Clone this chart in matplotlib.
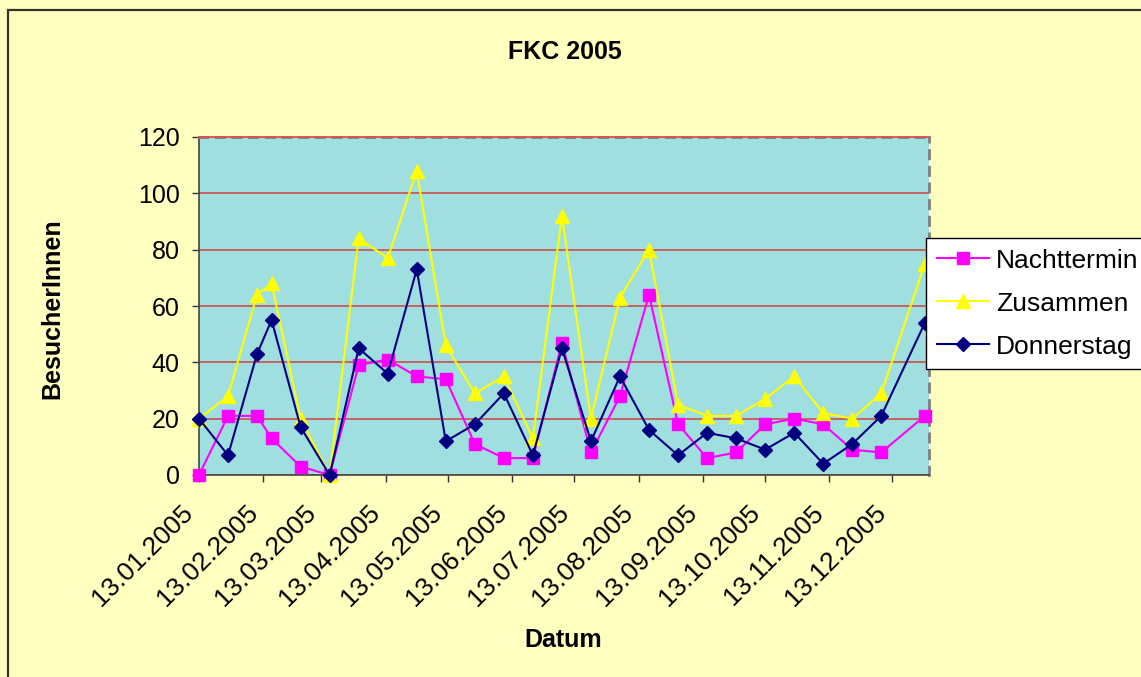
import matplotlib
matplotlib.use("Agg")
import matplotlib.pyplot as plt
import matplotlib.dates as mdates
import matplotlib.transforms as mtransforms
from matplotlib.patches import Rectangle
import datetime as dt

# ---- data ----
dates = ["2005-01-13", "2005-01-27", "2005-02-10", "2005-02-17", "2005-03-03",
         "2005-03-17", "2005-03-31", "2005-04-14", "2005-04-28", "2005-05-12",
         "2005-05-26", "2005-06-09", "2005-06-23", "2005-07-07", "2005-07-21",
         "2005-08-04", "2005-08-18", "2005-09-01", "2005-09-15", "2005-09-29",
         "2005-10-13", "2005-10-27", "2005-11-10", "2005-11-24", "2005-12-08",
         "2005-12-29"]
nachttermin = [0, 21, 21, 13, 3, 0, 39, 41, 35, 34, 11, 6, 6, 47, 8, 28, 64, 18,
               6, 8, 18, 20, 18, 9, 8, 21]
zusammen = [20, 28, 64, 68, 20, 0, 84, 77, 108, 46, 29, 35, 13, 92, 20, 63, 80, 25,
            21, 21, 27, 35, 22, 20, 29, 75]
donnerstag = [20, 7, 43, 55, 17, 0, 45, 36, 73, 12, 18, 29, 7, 45, 12, 35, 16, 7,
              15, 13, 9, 15, 4, 11, 21, 54]
tick_dates = ["2005-%02d-13" % m for m in range(1, 13)]
y_ticks = [0, 20, 40, 60, 80, 100, 120]

x = [dt.datetime.strptime(d, "%Y-%m-%d") for d in dates]
xt = [dt.datetime.strptime(d, "%Y-%m-%d") for d in tick_dates]

plt.rcParams['font.family'] = ['Liberation Sans', 'DejaVu Sans']

W, H = 1141, 677
fig = plt.figure(figsize=(W / 100, H / 100), dpi=100)
fig.patch.set_facecolor("#FFFFC0")

# outer chart border
fig.patches.append(Rectangle((8 / W, 0 - 0.05), 1.2, 1 - 10 / H + 0.05,
                             transform=fig.transFigure, fill=False,
                             edgecolor="#333333", linewidth=1.6, clip_on=False))

L, R, T, B = 199, 929, 137, 475
ax = fig.add_axes([L / W, 1 - B / H, (R - L) / W, (B - T) / H])
ax.set_facecolor("#A0DFDF")

ax.set_ylim(0, 120)
ax.set_xlim(dt.datetime(2005, 1, 13), dt.datetime(2005, 12, 31))
ax.set_yticks(y_ticks)
ax.yaxis.grid(True, color="#C85A5A", linewidth=1.3)
ax.set_axisbelow(True)

ln1, = ax.plot(x, nachttermin, color="#FF00FF", lw=1.5, marker="s", ms=8.5,
               mec="#FF00FF", mfc="#FF00FF", clip_on=False, zorder=3,
               label="Nachttermin")
ln2, = ax.plot(x, zusammen, color="#FFFF00", lw=1.5, marker="^", ms=10.5,
               mec="#FFFF00", mfc="#FFFF00", clip_on=False, zorder=4,
               label="Zusammen")
ln3, = ax.plot(x, donnerstag, color="#000080", lw=1.5, marker="D", ms=7.5,
               mec="#000080", mfc="#000080", clip_on=False, zorder=5,
               label="Donnerstag")

# spines: dashed grey border with solid axes on left/bottom
for s in ["top", "right"]:
    ax.spines[s].set_color("#808080")
    ax.spines[s].set_linestyle((0, (3, 3)))
    ax.spines[s].set_linewidth(2.0)
for s in ["left", "bottom"]:
    ax.spines[s].set_color("#444444")
    ax.spines[s].set_linewidth(1.2)
ax.axhline(120, color="#E05050", linewidth=1.3, zorder=2.6, clip_on=False)

ax.set_xticks(xt)
ax.xaxis.set_major_formatter(mdates.DateFormatter("%d.%m.%Y"))
ax.tick_params(axis="x", direction="out", length=5, width=1, color="#333333",
               labelsize=19, pad=4)
ax.tick_params(axis="y", direction="out", length=5, width=1, color="#333333",
               labelsize=18, pad=9)
offset = mtransforms.ScaledTranslation(-1 / 100, -13 / 100, fig.dpi_scale_trans)
for lbl in ax.get_xticklabels():
    lbl.set_rotation(45)
    lbl.set_ha("right")
    lbl.set_va("top")
    lbl.set_transform(lbl.get_transform() + offset)

# titles
fig.text(565 / W, 1 - 52 / H, "FKC 2005", ha="center", va="center",
         fontsize=18, fontweight="bold")
fig.text(563 / W, 1 - 640 / H, "Datum", ha="center", va="center",
         fontsize=18, fontweight="bold")
fig.text(52 / W, 1 - 309 / H, "BesucherInnen", ha="center", va="center",
         rotation=90, fontsize=18, fontweight="bold")

leg = fig.legend(handles=[ln1, ln2, ln3], loc="upper left",
                 bbox_to_anchor=(926 / W, 1 - 238 / H),
                 bbox_transform=fig.transFigure, borderaxespad=0,
                 fontsize=19, frameon=True, fancybox=False, shadow=False,
                 handlelength=2.0, handletextpad=0.25, labelspacing=0.72,
                 borderpad=0.4)
leg.get_frame().set_edgecolor("#000000")
leg.get_frame().set_linewidth(1.0)
leg.get_frame().set_facecolor("white")
leg.get_frame().set_alpha(1)

fig.savefig("out.png", dpi=100, facecolor=fig.get_facecolor())
